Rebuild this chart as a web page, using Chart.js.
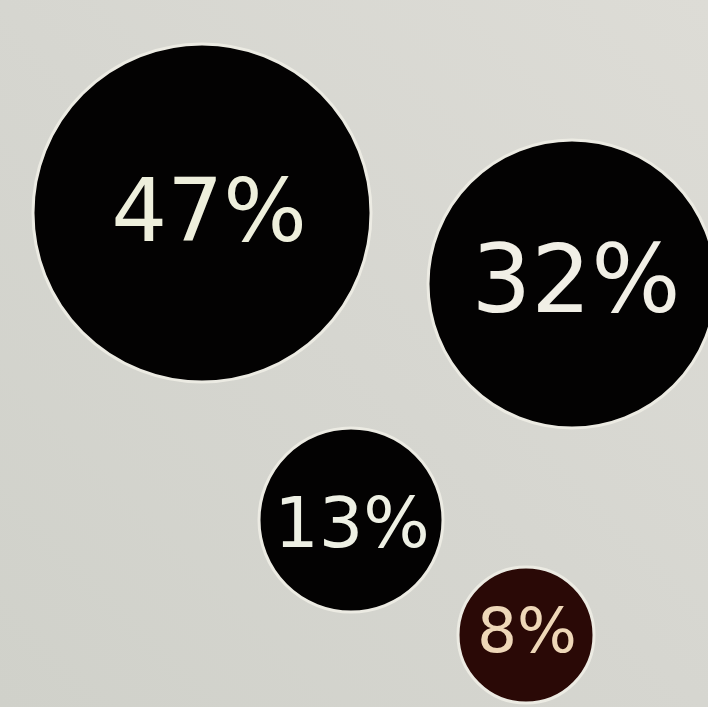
<!DOCTYPE html>
<html>
<head>
<meta charset="utf-8">
<script src="https://cdn.jsdelivr.net/npm/chart.js@4"></script>
<style>
  html, body { margin: 0; padding: 0; background: #d6d5cf; }
  #wrap { width: 708px; height: 707px; }
</style>
</head>
<body>
<div id="wrap"><canvas id="c" width="708" height="707"></canvas></div>
<script>
// Data
const labels = ['47%', '32%', '13%', '8%'];
const shares = [47, 32, 13, 8];
const bubbleX = [202, 572, 351, 526];
const bubbleY = [213, 284, 520, 635];
const bubbleR = [169, 144, 92, 68];

// Styles
const fillColors = ['#030202', '#030202', '#030202', '#2a0906'];
const labelSizes = [88, 94, 70, 63];
const labelDx = [7, 4, 1, 1];
const labelDy = [28, 28, 27, 17];
const labelColors = ['#eeefdc', '#f1efe6', '#eef0e4', '#eed7b8'];

const labelPlugin = {
  id: 'labels',
  beforeDraw(chart) {
    const ctx = chart.ctx;
    ctx.save();
    const g = ctx.createLinearGradient(0, chart.height, chart.width, 0);
    g.addColorStop(0, '#d0d1ca');
    g.addColorStop(0.5, '#d6d6d0');
    g.addColorStop(1, '#dddcd6');
    ctx.fillStyle = g;
    ctx.fillRect(0, 0, chart.width, chart.height);
    ctx.restore();
  },
  afterDatasetsDraw(chart) {
    const ctx = chart.ctx;
    const meta = chart.getDatasetMeta(0);
    ctx.save();
    ctx.textAlign = 'center';
    ctx.textBaseline = 'alphabetic';
    meta.data.forEach((el, i) => {
      ctx.font = '400 ' + labelSizes[i] + 'px "DejaVu Sans", sans-serif';
      ctx.fillStyle = labelColors[i];
      ctx.fillText(labels[i], el.x + labelDx[i], el.y + labelDy[i]);
    });
    ctx.restore();
  }
};

new Chart(document.getElementById('c'), {
  type: 'bubble',
  data: {
    labels: labels,
    datasets: [{
      label: 'Share',
      data: shares.map((v, i) => ({ x: bubbleX[i], y: bubbleY[i], r: bubbleR[i], v: v })),
      backgroundColor: fillColors,
      borderColor: '#ecebe3',
      borderWidth: 3,
      hoverRadius: 0,
      clip: false
    }]
  },
  options: {
    responsive: false,
    animation: false,
    layout: { padding: 0, autoPadding: false },
    plugins: { legend: { display: false }, tooltip: { enabled: false } },
    scales: {
      x: { type: 'linear', min: 0, max: 708, display: false },
      y: { type: 'linear', min: 0, max: 707, reverse: true, display: false }
    }
  },
  plugins: [labelPlugin]
});
</script>
</body>
</html>
